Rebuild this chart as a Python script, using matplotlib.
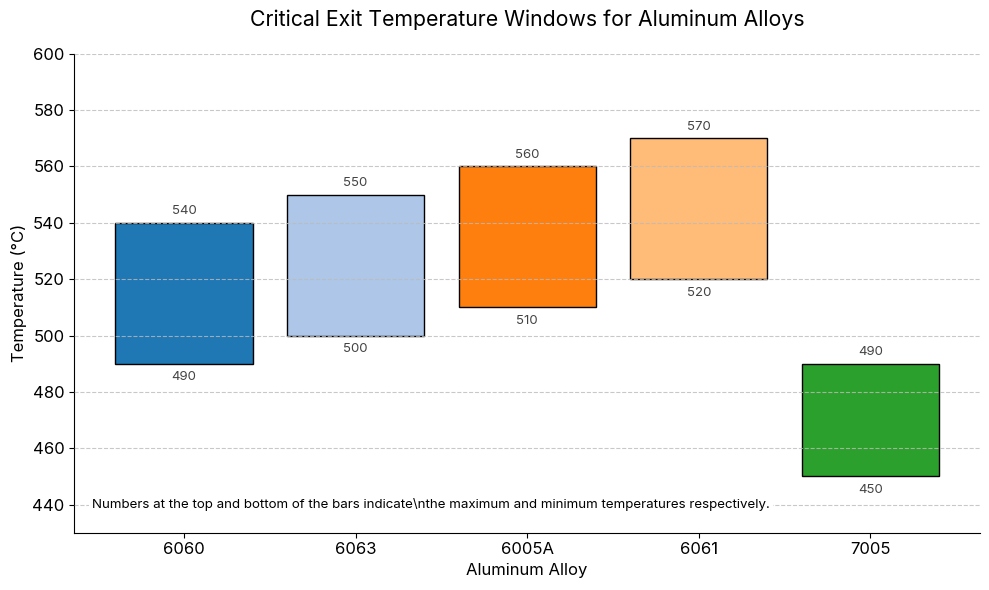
import matplotlib.pyplot as plt

plt.rcParams['font.family'] = ['Inter', 'DejaVu Sans']

alloys = ['6060', '6063', '6005A', '6061', '7005']
t_min = [490, 500, 510, 520, 450]
t_max = [540, 550, 560, 570, 490]
colors = ['#1f77b4', '#aec7e8', '#ff7f0e', '#ffbb78', '#2ca02c']

fig, ax = plt.subplots(figsize=(9.89, 5.9), dpi=100)
fig.subplots_adjust(left=0.075, right=0.991, top=0.909, bottom=0.097)

heights = [hi - lo for lo, hi in zip(t_min, t_max)]
bars = ax.bar(alloys, heights, bottom=t_min, color=colors, edgecolor='black', linewidth=1, zorder=1)

for b, lo, hi in zip(bars, t_min, t_max):
    cx = b.get_x() + b.get_width() / 2
    ax.annotate(str(hi), (cx, hi), xytext=(0, 4), textcoords='offset points',
                ha='center', va='bottom', fontsize=9.5, color='#444444')
    ax.annotate(str(lo), (cx, lo), xytext=(0, -5.5), textcoords='offset points',
                ha='center', va='top', fontsize=9.5, color='#444444')

ax.set_ylim(430, 600)
ax.yaxis.grid(True, linestyle='--', color='#bbbbbb', alpha=0.8, zorder=2)
ax.set_axisbelow(False)
ax.spines['top'].set_visible(False)
ax.spines['right'].set_visible(False)
ax.tick_params(labelsize=12)

ax.set_title('Critical Exit Temperature Windows for Aluminum Alloys', fontsize=15.3, pad=20)
ax.set_xlabel('Aluminum Alloy', fontsize=12)
ax.set_ylabel('Temperature (°C)', fontsize=12)

ax.text(0.02, 0.06, 'Numbers at the top and bottom of the bars indicate\\nthe maximum and minimum temperatures respectively.',
        transform=ax.transAxes, fontsize=9.6, va='center',
        bbox=dict(facecolor='white', edgecolor='none', pad=2))

fig.savefig('out.png')
